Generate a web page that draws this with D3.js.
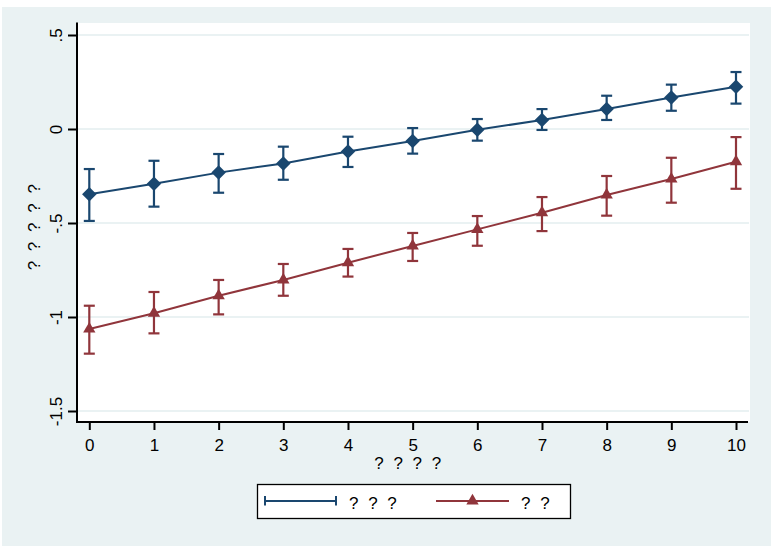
<!DOCTYPE html>
<html>
<head>
<meta charset="utf-8">
<script src="https://cdn.jsdelivr.net/npm/d3@7"></script>
<style>
  html, body { margin: 0; padding: 0; background: #ffffff; }
  svg text { font-family: Arial, "Liberation Sans", sans-serif; fill: #000; }
</style>
</head>
<body>
<svg id="chart" width="774" height="555"></svg>
<script>
// ---- data ----
const xValues = [0, 1, 2, 3, 4, 5, 6, 7, 8, 9, 10];
const seriesNames = ["? ? ?", "? ?"];
const blueMean = [-0.347, -0.291, -0.232, -0.183, -0.120, -0.064, -0.004, 0.048, 0.106, 0.167, 0.225];
const blueLow  = [-0.489, -0.413, -0.339, -0.270, -0.202, -0.131, -0.062, -0.005, 0.048, 0.097, 0.135];
const blueHigh = [-0.213, -0.169, -0.133, -0.094, -0.041, 0.005, 0.053, 0.106, 0.177, 0.236, 0.303];
const redMean  = [-1.064, -0.980, -0.887, -0.803, -0.711, -0.622, -0.534, -0.445, -0.351, -0.266, -0.174];
const redLow   = [-1.195, -1.087, -0.986, -0.887, -0.785, -0.702, -0.621, -0.543, -0.461, -0.392, -0.318];
const redHigh  = [-0.940, -0.867, -0.803, -0.718, -0.638, -0.553, -0.463, -0.362, -0.250, -0.153, -0.043];
const yTicks = [0.5, 0, -0.5, -1, -1.5];
const yTickLabels = [".5", "0", "-.5", "-1", "-1.5"];
const xTicks = [0, 1, 2, 3, 4, 5, 6, 7, 8, 9, 10];
const xTitle = "? ? ? ?";
const yTitle = "? ? ? ? ?";

// ---- style ----
const BLUE = "#1a476f", RED = "#90353b", BG = "#eaf2f3";
const FS = 17;
const svg = d3.select("#chart");

const plot = { left: 77, right: 750, top: 23, bottom: 422 };
const x = d3.scaleLinear().domain([0, 10]).range([89.3, 736]);
const y = d3.scaleLinear().domain([-1.5, 0.5]).range([411, 35]);

// outer background
svg.append("rect").attr("x", 2).attr("y", 7).attr("width", 769).attr("height", 539).attr("fill", BG);
// plot region
svg.append("rect").attr("x", plot.left).attr("y", plot.top)
  .attr("width", plot.right - plot.left).attr("height", plot.bottom - plot.top).attr("fill", "#fff");

// gridlines
svg.append("g").selectAll("line").data(yTicks).join("line")
  .attr("x1", plot.left).attr("x2", plot.right - 1)
  .attr("y1", d => y(d)).attr("y2", d => y(d))
  .attr("stroke", BG).attr("stroke-width", 2);

// y axis
const yAxis = svg.append("g").attr("transform", `translate(${plot.left},0)`)
  .call(d3.axisLeft(y).tickValues(yTicks).tickSize(9).tickFormat((d, i) => yTickLabels[i]));
yAxis.select(".domain").remove();
yAxis.selectAll(".tick line").attr("stroke", "#000").attr("stroke-width", 2);
yAxis.selectAll(".tick text")
  .attr("x", null).attr("dy", null)
  .attr("transform", "translate(-15,0) rotate(-90)")
  .attr("text-anchor", "middle")
  .attr("font-size", FS);
svg.append("line").attr("x1", plot.left).attr("x2", plot.left)
  .attr("y1", plot.top - 0.5).attr("y2", plot.bottom + 1)
  .attr("stroke", "#000").attr("stroke-width", 2);

// x axis
const xAxis = svg.append("g").attr("transform", `translate(0,${plot.bottom})`)
  .call(d3.axisBottom(x).tickValues(xTicks).tickSize(8).tickFormat(d3.format("d")));
xAxis.select(".domain").remove();
xAxis.selectAll(".tick line").attr("stroke", "#000").attr("stroke-width", 2);
xAxis.selectAll(".tick text").attr("y", 29).attr("dy", null).attr("font-size", FS);
svg.append("line").attr("x1", plot.left - 1).attr("x2", plot.right - 2)
  .attr("y1", plot.bottom).attr("y2", plot.bottom)
  .attr("stroke", "#000").attr("stroke-width", 2);

// axis titles
svg.append("text").attr("x", 409).attr("y", 469).attr("text-anchor", "middle")
  .attr("font-size", FS).attr("letter-spacing", 2.5).text(xTitle);
svg.append("text").attr("transform", "translate(40,226) rotate(-90)").attr("text-anchor", "middle")
  .attr("font-size", FS).attr("letter-spacing", 2.5).text(yTitle);

// series drawing
function drawSeries(mean, low, high, color, marker) {
  const g = svg.append("g");
  const capW = 5.5;
  xValues.forEach((xv, i) => {
    const cx = x(xv);
    g.append("line").attr("x1", cx).attr("x2", cx).attr("y1", y(low[i])).attr("y2", y(high[i]))
      .attr("stroke", color).attr("stroke-width", 2.2);
    [low[i], high[i]].forEach(v => {
      g.append("line").attr("x1", cx - capW).attr("x2", cx + capW).attr("y1", y(v)).attr("y2", y(v))
        .attr("stroke", color).attr("stroke-width", 2.2);
    });
  });
  const line = d3.line().x((d, i) => x(xValues[i])).y(d => y(d));
  g.append("path").attr("d", line(mean)).attr("fill", "none").attr("stroke", color).attr("stroke-width", 2);
  const sym = marker === "diamond"
    ? d3.symbol().type(d3.symbolSquare).size(105)
    : d3.symbol().type(d3.symbolTriangle).size(66);
  g.selectAll("path.m").data(mean).join("path").attr("class", "m")
    .attr("d", sym)
    .attr("transform", (d, i) => `translate(${x(xValues[i])},${y(d)})` + (marker === "diamond" ? " rotate(45)" : ""))
    .attr("fill", color);
}
drawSeries(blueMean, blueLow, blueHigh, BLUE, "diamond");
drawSeries(redMean, redLow, redHigh, RED, "triangle");

// legend
const lg = svg.append("g");
lg.append("rect").attr("x", 257.5).attr("y", 484.5).attr("width", 313).attr("height", 34)
  .attr("fill", "#fff").attr("stroke", "#000").attr("stroke-width", 1.3);
const ly = 501;
lg.append("line").attr("x1", 265).attr("x2", 336).attr("y1", ly).attr("y2", ly).attr("stroke", BLUE).attr("stroke-width", 2);
[265, 336].forEach(px => lg.append("line").attr("x1", px).attr("x2", px).attr("y1", ly - 5).attr("y2", ly + 4.5)
  .attr("stroke", BLUE).attr("stroke-width", 2));
lg.append("text").attr("x", 349).attr("y", 509).attr("font-size", FS).attr("letter-spacing", 2.5).text(seriesNames[0]);
lg.append("line").attr("x1", 436).attr("x2", 509).attr("y1", ly).attr("y2", ly).attr("stroke", RED).attr("stroke-width", 2);
lg.append("path").attr("d", d3.symbol().type(d3.symbolTriangle).size(66)).attr("transform", `translate(472.5,${ly})`).attr("fill", RED);
lg.append("text").attr("x", 521).attr("y", 509).attr("font-size", FS).attr("letter-spacing", 2.5).text(seriesNames[1]);
</script>
</body>
</html>
